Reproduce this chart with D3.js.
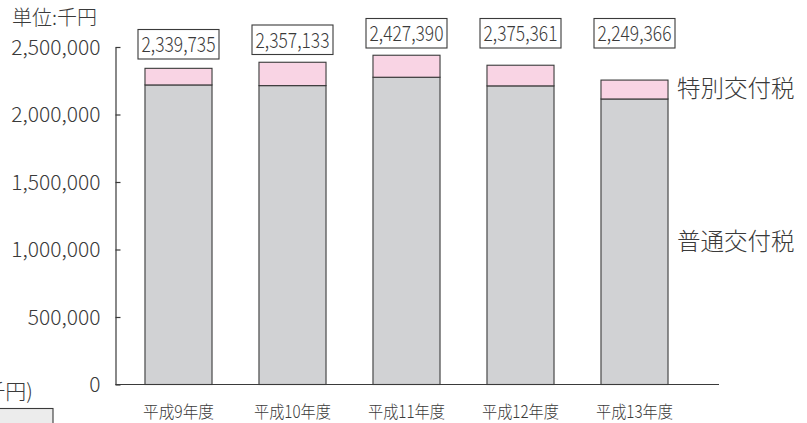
<!DOCTYPE html>
<html>
<head>
<meta charset="utf-8">
<script src="https://cdn.jsdelivr.net/npm/d3@7"></script>
<style>
  html, body { margin: 0; padding: 0; background: #fff; }
  svg { display: block; font-family: "Noto Sans CJK JP", "Noto Sans", sans-serif; font-weight: 300; }
</style>
</head>
<body>
<svg id="chart" width="807" height="423"></svg>
<script>
// ---- data ----
const categories = ["平成9年度", "平成10年度", "平成11年度", "平成12年度", "平成13年度"];
const normalTax  = [2219000, 2214000, 2276000, 2212000, 2115000];   // 普通交付税
const specialTax = [123000, 173000, 163000, 153000, 140000];        // 特別交付税
const totalLabels = ["2,339,735", "2,357,133", "2,427,390", "2,375,361", "2,249,366"];
const yTicks = [0, 500000, 1000000, 1500000, 2000000, 2500000];
const seriesNames = ["普通交付税", "特別交付税"];
const unitLabel = "単位:千円";

// ---- layout ----
const svg = d3.select("#chart");
const axisX = 115.5, baseY = 384.5, topY = 47, rightX = 719;
const x = d3.scaleBand().domain(categories).range([115, 698]).paddingInner(0.412).paddingOuter(0.263);
const y = d3.scaleLinear().domain([0, 2500000]).range([baseY, topY]);

const dark = "#3a3a3a";
const txt = "#3a3a3a";

// unit label
svg.append("text").attr("x", 12).attr("y", 25).attr("font-size", 20).attr("fill", txt)
  .text(unitLabel);

// y axis
const yAxis = d3.axisLeft(y).tickValues(yTicks).tickFormat(d3.format(","))
  .tickSizeInner(-5).tickSizeOuter(0).tickPadding(15);
const gy = svg.append("g").attr("transform", `translate(${axisX},0)`).call(yAxis);
gy.select(".domain").attr("stroke", dark).attr("stroke-width", 1.2);
gy.selectAll(".tick line").attr("stroke", dark).attr("stroke-width", 1.2);
gy.selectAll(".tick text").attr("font-size", 21).attr("fill", txt)
  .attr("font-family", "\"Noto Sans CJK JP\", sans-serif").attr("font-weight", 300)
  .attr("dy", "0.34em");

// bars
const stack = categories.map((c, i) => ({ c, n: normalTax[i], s: specialTax[i], i }));
const g = svg.append("g");
g.selectAll("rect.normal").data(stack).join("rect").attr("class", "normal")
  .attr("x", d => x(d.c)).attr("width", x.bandwidth())
  .attr("y", d => y(d.n)).attr("height", d => y(0) - y(d.n))
  .attr("fill", "#d1d2d4").attr("stroke", dark).attr("stroke-width", 1.1);
g.selectAll("rect.special").data(stack).join("rect").attr("class", "special")
  .attr("x", d => x(d.c)).attr("width", x.bandwidth())
  .attr("y", d => y(d.n + d.s)).attr("height", d => y(d.n) - y(d.n + d.s))
  .attr("fill", "#f9d4e4").attr("stroke", dark).attr("stroke-width", 1.1);

// x axis baseline
svg.append("line").attr("x1", axisX).attr("x2", rightX).attr("y1", baseY).attr("y2", baseY)
  .attr("stroke", dark).attr("stroke-width", 1.2);

// total label boxes
const boxTop = [29, 24.5, 18, 18, 18];
const boxW = 81, boxH = 29.5;
const lb = svg.append("g");
stack.forEach(d => {
  const cx = x(d.c) + x.bandwidth() / 2;
  lb.append("rect").attr("x", cx - boxW / 2).attr("y", boxTop[d.i] + 0.5)
    .attr("width", boxW).attr("height", boxH).attr("fill", "#fff")
    .attr("stroke", dark).attr("stroke-width", 1.1);
  lb.append("text").attr("x", cx).attr("y", boxTop[d.i] + 23).attr("text-anchor", "middle")
    .attr("font-size", 21.5).attr("fill", txt)
    .attr("textLength", 74).attr("lengthAdjust", "spacingAndGlyphs")
    .text(totalLabels[d.i]);
});

// category labels
svg.append("g").selectAll("text").data(categories).join("text")
  .attr("x", d => x(d) + x.bandwidth() / 2).attr("y", 418).attr("text-anchor", "middle")
  .attr("font-size", 17.5).attr("fill", txt)
  .attr("textLength", d => d.length > 5 ? 77 : 71).attr("lengthAdjust", "spacingAndGlyphs")
  .text(d => d);

// series labels at right
svg.append("text").attr("x", 677).attr("y", 97).attr("font-size", 23.5).attr("fill", txt)
  .text(seriesNames[1]);
svg.append("text").attr("x", 677).attr("y", 250).attr("font-size", 23.5).attr("fill", txt)
  .text(seriesNames[0]);

// cropped fragment at bottom-left (continues off the left edge, as in the reference)
svg.append("text").attr("x", 33).attr("y", 399).attr("text-anchor", "end")
  .attr("font-size", 21).attr("fill", txt).text("千円)");
svg.append("rect").attr("x", -5).attr("y", 408.5).attr("width", 58).attr("height", 30)
  .attr("fill", "#ececec").attr("stroke", dark).attr("stroke-width", 1.1);
</script>
</body>
</html>
